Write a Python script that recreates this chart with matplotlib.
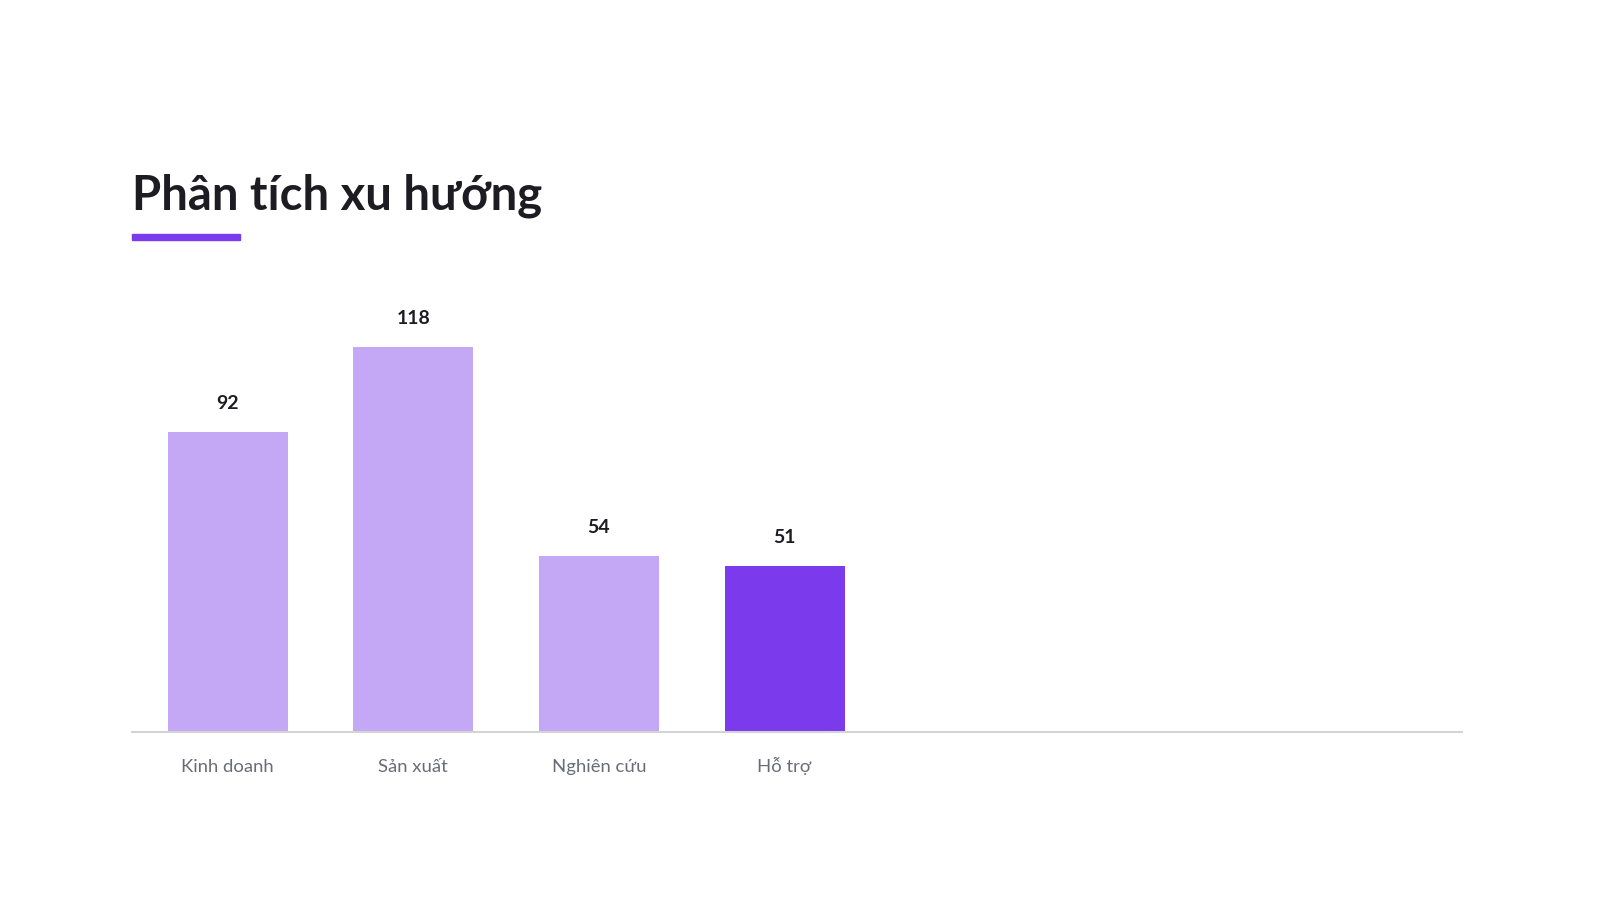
import matplotlib
matplotlib.use("Agg")
import matplotlib.pyplot as plt
from matplotlib.patches import Rectangle

plt.rcParams['font.family'] = ['Lato', 'DejaVu Sans']

categories = ["Kinh doanh", "Sản xuất", "Nghiên cứu", "Hỗ trợ"]
values = [92, 118, 54, 51]
highlight = "Hỗ trợ"

light = "#C4A7F5"
accent = "#7C3AED"

W, H = 1598, 900
fig = plt.figure(figsize=(W / 100, H / 100), dpi=100)
# axes box in pixels: left 131.6, right 1462, baseline 732, top 302
ax = fig.add_axes([131.6 / W, 1 - 732 / H, (1462 - 131.6) / W, 430 / H])

colors = [accent if c == highlight else light for c in categories]
xs = range(len(categories))
ax.bar(xs, values, width=0.647, color=colors, zorder=2)

for x, v in zip(xs, values):
    ax.annotate(str(v), (x, v), xytext=(0, 20.5), textcoords="offset points",
                ha="center", va="center", fontsize=14, fontweight="bold", color="#1c1c22")

ax.set_xlim(-0.518, 6.650)
ax.set_ylim(0, 131.9)
ax.set_xticks(list(xs))
ax.set_xticklabels(categories, fontsize=13.3, color="#6b6b78")
for lab in ax.get_xticklabels():
    lab.set_va("baseline")  # keep accented labels on one line
ax.tick_params(axis="x", length=0, pad=28.5)
ax.set_yticks([])
for s in ["top", "right", "left"]:
    ax.spines[s].set_visible(False)
ax.spines["bottom"].set_color("#d4d4d8")
ax.spines["bottom"].set_linewidth(1.5)

fig.text(131.6 / W, 1 - 209 / H, "Phân tích xu hướng", fontsize=34, fontweight="bold",
         color="#1c1c22", ha="left", va="baseline")
fig.patches.append(Rectangle((131.6 / W, 1 - 240 / H), 108 / W, 6 / H,
                             transform=fig.transFigure, color=accent, figure=fig))

fig.savefig("out.png", dpi=100, facecolor="white")
